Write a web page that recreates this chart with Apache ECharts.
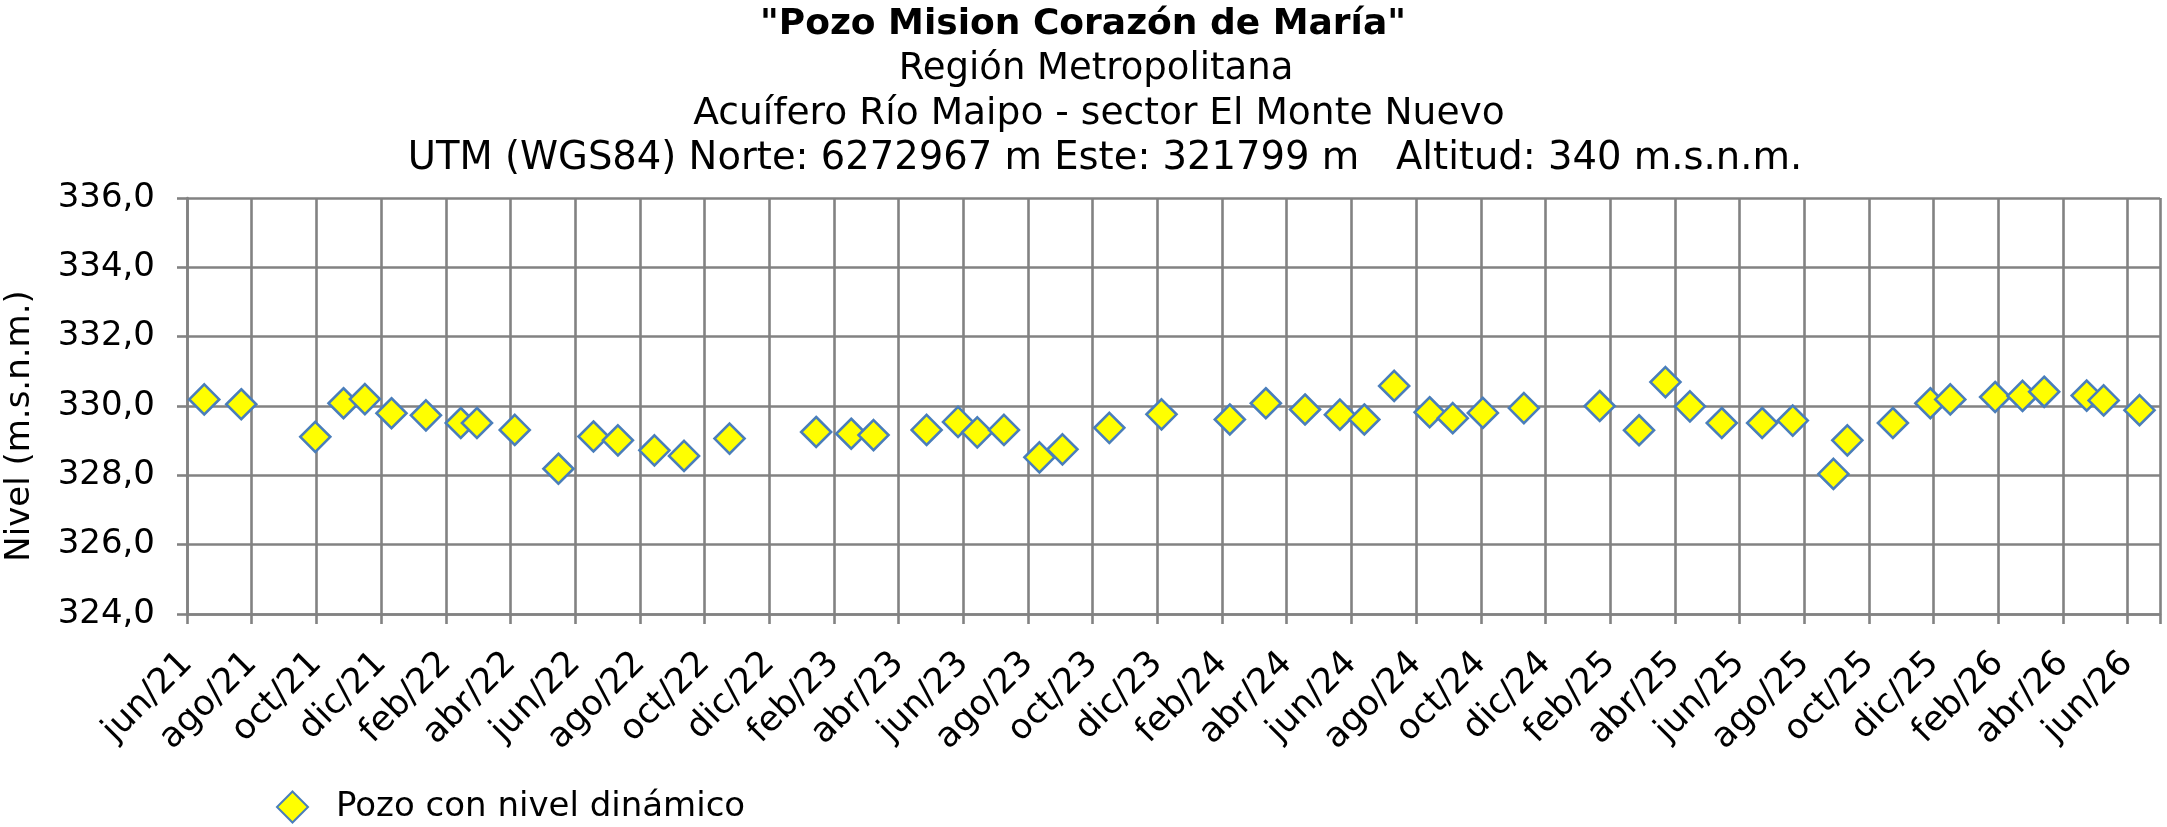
<!DOCTYPE html>
<html>
<head>
<meta charset="utf-8">
<script src="https://cdn.jsdelivr.net/npm/echarts@6/dist/echarts.min.js"></script>
<style>
html, body { margin: 0; padding: 0; background: #fff; }
#grafico { width: 2167px; height: 827px; }
</style>
</head>
<body>
<div id="grafico"></div>
<script>
var myChart = echarts.init(document.getElementById('grafico'));

// textos del titulo
var titulo = '"Pozo Mision Corazón de María"';
var subtitulos = [
    'Región Metropolitana',
    'Acuífero Río Maipo - sector El Monte Nuevo',
    'UTM (WGS84) Norte: 6272967 m Este: 321799 m   Altitud: 340 m.s.n.m.'
];

// etiquetas del eje x (cada 2 meses desde jun/21)
var meses = ['ene', 'feb', 'mar', 'abr', 'may', 'jun', 'jul', 'ago', 'sep', 'oct', 'nov', 'dic'];

// mediciones: fecha y nivel
var fechas = [
    '2021-06-17', '2021-07-22', '2021-09-30', '2021-10-27', '2021-11-16',
    '2021-12-11', '2022-01-13', '2022-02-14', '2022-02-28', '2022-04-05',
    '2022-05-16', '2022-06-18', '2022-07-11', '2022-08-15', '2022-09-12',
    '2022-10-25', '2023-01-15', '2023-02-16', '2023-03-08', '2023-04-27',
    '2023-05-27', '2023-06-14', '2023-07-09', '2023-08-12', '2023-09-03',
    '2023-10-17', '2023-12-05', '2024-02-08', '2024-03-12', '2024-04-18',
    '2024-05-21', '2024-06-13', '2024-07-11', '2024-08-14', '2024-09-05',
    '2024-10-03', '2024-11-11', '2025-01-22', '2025-02-26', '2025-03-23',
    '2025-04-15', '2025-05-15', '2025-06-22', '2025-07-21', '2025-08-29',
    '2025-09-11', '2025-10-24', '2025-11-28', '2025-12-17', '2026-01-29',
    '2026-02-22', '2026-03-14', '2026-04-23', '2026-05-09', '2026-06-12'
];
var niveles = [
    330.19, 330.05, 329.11, 330.08, 330.20,
    329.79, 329.73, 329.51, 329.51, 329.31,
    328.19, 329.12, 329.01, 328.72, 328.56,
    329.06, 329.25, 329.20, 329.16, 329.31,
    329.54, 329.24, 329.31, 328.52, 328.75,
    329.37, 329.76, 329.61, 330.08, 329.90,
    329.75, 329.61, 330.58, 329.82, 329.65,
    329.80, 329.94, 330.00, 329.30, 330.69,
    329.99, 329.51, 329.51, 329.58, 328.04,
    329.01, 329.51, 330.08, 330.19, 330.26,
    330.29, 330.41, 330.30, 330.16, 329.88
];

var fuente = 'DejaVu Sans';

// meses transcurridos desde el 1 de junio de 2021
var mesIndice = function (f) {
    var p = f.split('-');
    var y = +p[0], m = +p[1], d = +p[2];
    var dias = new Date(y, m, 0).getDate();
    return (y - 2021) * 12 + (m - 6) + (d - 1) / dias;
};

var puntos = [];
for (var i = 0; i < fechas.length; i++) {
    puntos.push([mesIndice(fechas[i]), niveles[i]]);
}

var titulos = [{
    text: titulo,
    left: 1083,
    top: 5,
    textAlign: 'center',
    padding: 0,
    textStyle: { fontFamily: fuente, fontSize: 36, fontWeight: 'bold', color: '#000', lineHeight: 40 }
}];
// posicion y tamaño de cada linea del subtitulo
var subX = [1096, 1099, 1105];
var subY = [49, 94, 139];
var subTam = [37, 37.6, 38.5];
for (var j = 0; j < subtitulos.length; j++) {
    titulos.push({
        text: subtitulos[j],
        left: subX[j],
        top: subY[j],
        textAlign: 'center',
        padding: 0,
        textStyle: { fontFamily: fuente, fontSize: subTam[j], fontWeight: 'normal', color: '#000', lineHeight: 40 }
    });
}

var gris = '#828282';

option = {
    backgroundColor: '#fff',
    animation: false,
    title: titulos,
    legend: {
        left: 271,
        top: 785,
        itemWidth: 31,
        itemHeight: 31,
        icon: 'diamond',
        textStyle: { fontFamily: fuente, fontSize: 34, color: '#000', padding: [0, 0, 0, 23] },
        data: ['Pozo con nivel dinámico']
    },
    grid: {
        left: 187,
        right: 7,
        top: 198,
        bottom: 213,
        outerBoundsMode: 'none'
    },
    xAxis: {
        type: 'value',
        min: 0,
        max: 61,
        interval: 2,
        axisLine: { show: true, lineStyle: { color: gris, width: 2.6 } },
        axisTick: { show: true, length: 10, lineStyle: { color: gris, width: 2.6 } },
        splitLine: { show: true, lineStyle: { color: gris, width: 2.6 } },
        axisLabel: {
            rotate: 45,
            margin: 44,
            showMinLabel: true,
            fontFamily: fuente,
            fontSize: 35,
            color: '#000',
            formatter: function (v) {
                if (v % 2 !== 0) return '';
                var t = 5 + v;
                return meses[t % 12] + '/' + (21 + Math.floor(t / 12));
            }
        }
    },
    yAxis: {
        type: 'value',
        min: 324,
        max: 336,
        interval: 2,
        name: 'Nivel (m.s.n.m.)',
        nameLocation: 'middle',
        nameGap: 150,
        nameTextStyle: { fontFamily: fuente, fontSize: 34, color: '#000', padding: [0, 40, 0, 0] },
        axisLine: { show: true, lineStyle: { color: gris, width: 2.6 } },
        axisTick: { show: true, length: 10, lineStyle: { color: gris, width: 2.6 } },
        splitLine: { show: true, lineStyle: { color: gris, width: 2.6 } },
        axisLabel: {
            margin: 32,
            fontFamily: fuente,
            fontSize: 34,
            color: '#000',
            formatter: function (v) {
                return v.toFixed(1).replace('.', ',');
            }
        }
    },
    series: [{
        name: 'Pozo con nivel dinámico',
        type: 'scatter',
        symbol: 'diamond',
        symbolSize: 30,
        data: puntos,
        itemStyle: {
            color: '#ffff00',
            borderColor: '#4a7ebb',
            borderWidth: 2.6,
            opacity: 1
        }
    }]
};

myChart.setOption(option);
</script>
</body>
</html>
